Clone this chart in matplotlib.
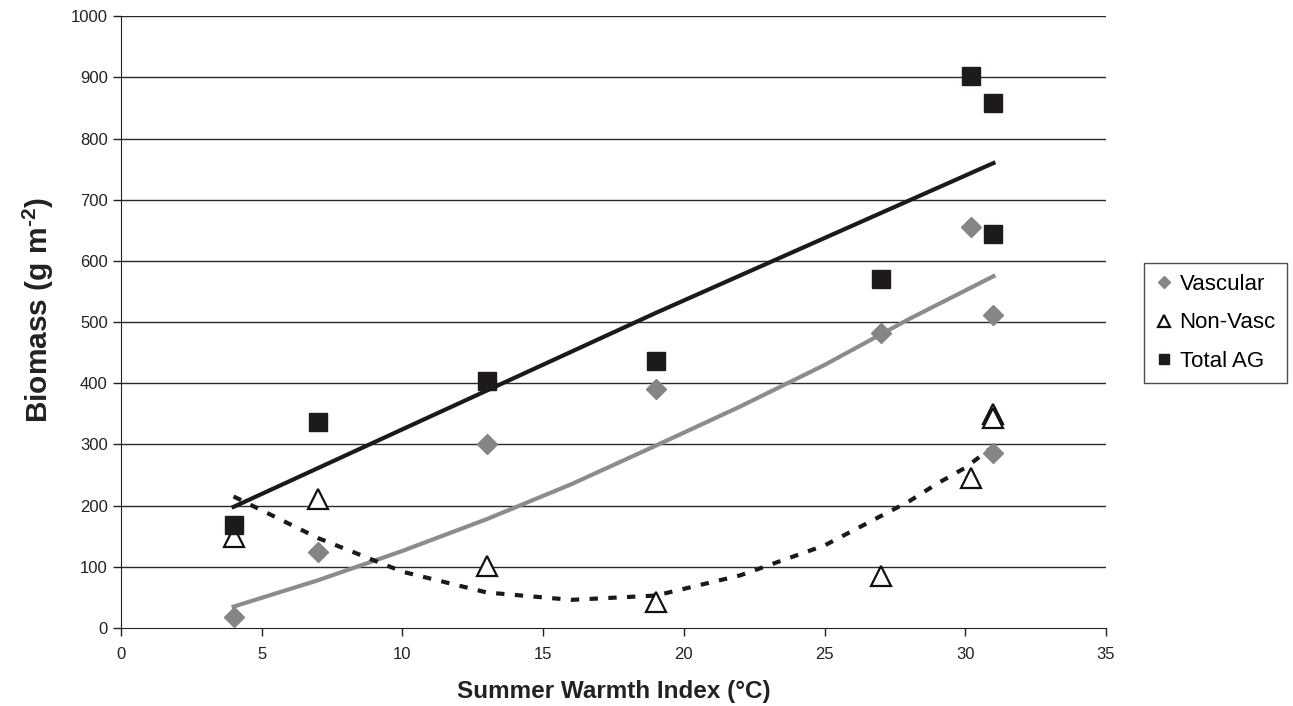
import matplotlib.pyplot as plt

plt.rcParams["font.family"] = ["Liberation Sans", "DejaVu Sans"]
plt.rcParams["mathtext.fontset"] = "custom"
plt.rcParams["mathtext.rm"] = "Liberation Sans"
plt.rcParams["mathtext.bf"] = "Liberation Sans:bold"

# observed points
swi = [4, 7, 13, 19, 27, 30.2, 31, 31]
vascular = [18, 125, 300, 390, 483, 655, 511, 286]
swi_nv = [4, 7, 13, 19, 27, 30.2, 31, 31]
non_vasc = [148, 211, 101, 42, 85, 245, 350, 343]
swi_tot = [4, 7, 13, 19, 27, 30.2, 31, 31]
total_ag = [168, 337, 403, 436, 570, 903, 858, 644]

# trend lines
fit_tot_x = [4, 19, 31]
fit_tot_y = [198, 515, 760]
fit_vasc_x = [4, 7, 10, 13, 16, 19, 22, 25, 28, 31]
fit_vasc_y = [35, 78, 126, 178, 235, 298, 362, 430, 505, 575]
fit_nv_x = [4, 7, 10, 13, 16, 19, 22, 25, 27, 28, 29, 30, 31]
fit_nv_y = [215, 147, 92, 58, 46, 53, 86, 135, 183, 207, 236, 262, 297]

fig = plt.figure(figsize=(12.93, 7.06), dpi=100)
ax = fig.add_axes([0.0936, 0.1105, 0.7618, 0.8665])

for y in range(100, 1001, 100):
    ax.axhline(y, color="#2a2a2a", lw=1.0, zorder=0)

ax.plot(fit_tot_x, fit_tot_y, color="#1a1a1a", lw=3, zorder=2)
ax.plot(fit_vasc_x, fit_vasc_y, color="#8c8c8c", lw=3, zorder=2)
ax.plot(fit_nv_x, fit_nv_y, color="#1a1a1a", lw=3, ls=(0, (2, 2.5)), zorder=2)

ax.plot(swi, vascular, ls="none", marker="D", ms=10, color="#858585",
        mec="#858585", label="Vascular", zorder=3)
ax.plot(swi_nv, non_vasc, ls="none", marker="^", ms=14, mfc="white",
        mec="#111111", mew=1.6, label="Non-Vasc", zorder=3)
ax.plot(swi_tot, total_ag, ls="none", marker="s", ms=12.5, color="#1e1a1a",
        mec="#1e1a1a", label="Total AG", zorder=4)

ax.set_xlim(0, 35)
ax.set_ylim(0, 1000)
ax.set_xticks(range(0, 36, 5))
ax.set_yticks(range(0, 1001, 100))
ax.tick_params(labelsize=12, colors="#222222", length=6, width=1)
ax.tick_params(axis="x", pad=8)
for s in ["top", "right"]:
    ax.spines[s].set_visible(False)
for s in ["left", "bottom"]:
    ax.spines[s].set_color("#222222")

ax.set_xlabel("Summer Warmth Index (°C)", fontsize=17.5, fontweight="bold",
              color="#222222", labelpad=13)
ax.set_ylabel("Biomass (g m$^{\\mathbf{\u20102}}$)", fontsize=21.5, fontweight="bold",
              color="#222222")
ax.yaxis.set_label_coords(-0.066, 0.52)

leg = fig.legend(loc="center left", bbox_to_anchor=(0.8848, 0.5425),
                 fontsize=16, frameon=True, fancybox=False,
                 handletextpad=0.3, handlelength=0.8, labelspacing=0.78,
                 borderpad=0.5, borderaxespad=0, markerscale=0.6)
leg.get_frame().set_edgecolor("#222222")
leg.get_frame().set_linewidth(1)

fig.savefig("out.png", dpi=100)
